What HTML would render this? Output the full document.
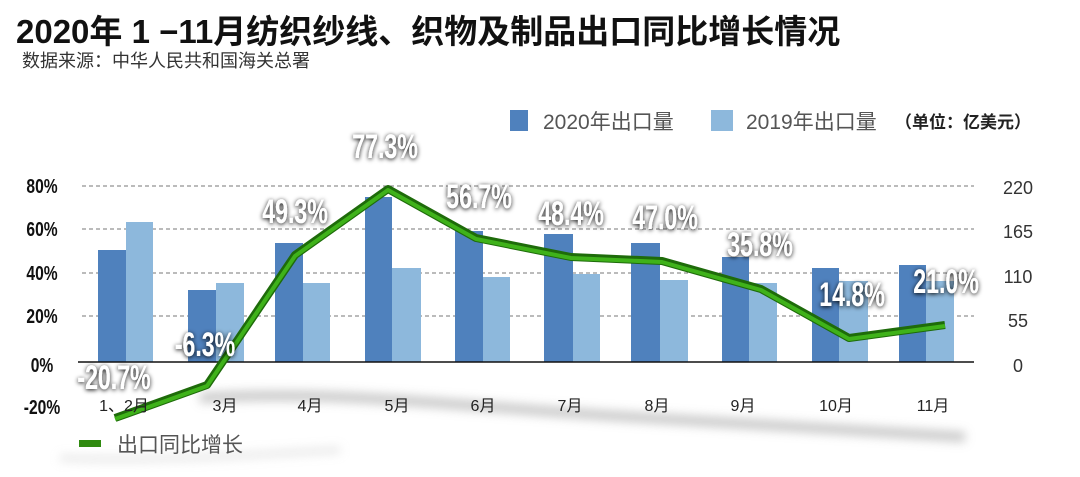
<!DOCTYPE html>
<html><head><meta charset="utf-8"><style>
body{margin:0;width:1080px;height:472px;background:#fff;overflow:hidden;font-family:"Liberation Sans","Noto Sans CJK SC",sans-serif}
</style></head><body>
<svg width="1080" height="472" xmlns="http://www.w3.org/2000/svg" font-family="Liberation Sans, Noto Sans CJK SC, sans-serif">
<defs>
<filter id="blur" x="-10%" y="-200%" width="120%" height="500%"><feGaussianBlur stdDeviation="5"/></filter>
<filter id="ts" x="-20%" y="-40%" width="140%" height="180%"><feGaussianBlur in="SourceAlpha" stdDeviation="2.5"/><feOffset dx="0" dy="1"/><feMerge><feMergeNode/><feMergeNode in="SourceGraphic"/></feMerge></filter>
</defs>
<text x="16" y="43" font-size="33" font-weight="bold" fill="#111">2020年 1 −11月纺织纱线、织物及制品出口同比增长情况</text>
<text x="22" y="67" font-size="18" fill="#333">数据来源：中华人民共和国海关总署</text>
<!-- legend -->
<rect x="510" y="110" width="18" height="21" fill="#4f81bd"/>
<text x="543" y="129" font-size="21" fill="#555">2020年出口量</text>
<rect x="711" y="110" width="22" height="21" fill="#8db8dc"/>
<text x="746" y="129" font-size="21" fill="#555">2019年出口量</text>
<text x="895" y="128" font-size="17" font-weight="bold" fill="#222">（单位：亿美元）</text>
<!-- shadow curve -->
<path d="M200 398 C330 390,450 405,600 415 C750 425,880 432,965 437" stroke="#bbb" stroke-width="10" fill="none" filter="url(#blur)" opacity="0.8"/>
<path d="M60 458 C150 462,250 455,340 450" stroke="#ccc" stroke-width="6" fill="none" filter="url(#blur)" opacity="0.5"/>
<!-- grid -->
<g stroke="#777" stroke-width="1" stroke-dasharray="4,3">
<line x1="82" y1="186" x2="974" y2="186"/><line x1="82" y1="229" x2="974" y2="229"/><line x1="82" y1="273" x2="974" y2="273"/><line x1="82" y1="316" x2="974" y2="316"/>
</g>
<!-- bars -->
<g fill="#4f81bd">
<rect x="98" y="250" width="28" height="112"/><rect x="188" y="290" width="28" height="72"/><rect x="275" y="243" width="28" height="119"/><rect x="365" y="197" width="27" height="165"/><rect x="455" y="231" width="28" height="131"/><rect x="544" y="234" width="29" height="128"/><rect x="631" y="243" width="29" height="119"/><rect x="722" y="257" width="27" height="105"/><rect x="812" y="268" width="27" height="94"/><rect x="899" y="265" width="27" height="97"/>
</g>
<g fill="#8db8dc">
<rect x="126" y="222" width="27" height="140"/><rect x="216" y="283" width="28" height="79"/><rect x="303" y="283" width="27" height="79"/><rect x="392" y="268" width="29" height="94"/><rect x="483" y="277" width="27" height="85"/><rect x="573" y="274" width="27" height="88"/><rect x="660" y="280" width="28" height="82"/><rect x="749" y="283" width="28" height="79"/><rect x="839" y="281" width="29" height="81"/><rect x="926" y="281" width="28" height="81"/>
</g>
<line x1="78" y1="362" x2="974" y2="362" stroke="#111" stroke-width="1.5"/>
<!-- line -->
<polyline points="115,418 207,385 295,255 388,189 476,238 571,257 662,261 761,289 849,338 945,325" fill="none" stroke="#1e6b0a" stroke-width="8" stroke-linejoin="round"/>
<polyline points="115,418 207,385 295,255 388,189 476,238 571,257 662,261 761,289 849,338 945,325" fill="none" stroke="#3fb21a" stroke-width="4" stroke-linejoin="round" transform="translate(0,1)"/>
<!-- left axis -->
<g font-size="20" font-weight="bold" fill="#111" text-anchor="middle">
<g transform="translate(42,193) scale(0.78,1)"><text>80%</text></g>
<g transform="translate(42,236) scale(0.78,1)"><text>60%</text></g>
<g transform="translate(42,280) scale(0.78,1)"><text>40%</text></g>
<g transform="translate(42,323) scale(0.78,1)"><text>20%</text></g>
<g transform="translate(42,372) scale(0.78,1)"><text>0%</text></g>
<g transform="translate(42,414) scale(0.78,1)"><text>-20%</text></g>
</g>
<g font-size="18" fill="#333" text-anchor="middle">
<text x="1018" y="194">220</text><text x="1018" y="238">165</text><text x="1018" y="283">110</text><text x="1018" y="327">55</text><text x="1018" y="372">0</text>
</g>
<g font-size="16" fill="#222" text-anchor="middle">
<text x="124" y="411">1、2月</text><text x="225" y="411">3月</text><text x="310" y="411">4月</text><text x="397" y="411">5月</text><text x="483" y="411">6月</text><text x="570" y="411">7月</text><text x="657" y="411">8月</text><text x="743" y="411">9月</text><text x="836" y="411">10月</text><text x="933" y="411">11月</text>
</g>
<!-- data labels -->
<g font-size="34" font-weight="bold" fill="#fff" text-anchor="middle" filter="url(#ts)">
<g transform="translate(114,389) scale(0.68,1)"><text>-20.7%</text></g>
<g transform="translate(205,356) scale(0.68,1)"><text>-6.3%</text></g>
<g transform="translate(295,223) scale(0.68,1)"><text>49.3%</text></g>
<g transform="translate(385,158) scale(0.68,1)"><text>77.3%</text></g>
<g transform="translate(479,208) scale(0.68,1)"><text>56.7%</text></g>
<g transform="translate(571,225) scale(0.68,1)"><text>48.4%</text></g>
<g transform="translate(665,229) scale(0.68,1)"><text>47.0%</text></g>
<g transform="translate(760,256) scale(0.68,1)"><text>35.8%</text></g>
<g transform="translate(852,306) scale(0.68,1)"><text>14.8%</text></g>
<g transform="translate(946,293) scale(0.68,1)"><text>21.0%</text></g>
</g>
<!-- line legend -->
<rect x="79" y="440" width="22" height="7" fill="#2f8a10"/>
<text x="117" y="452" font-size="21" fill="#555">出口同比增长</text>
</svg>
</body></html>
